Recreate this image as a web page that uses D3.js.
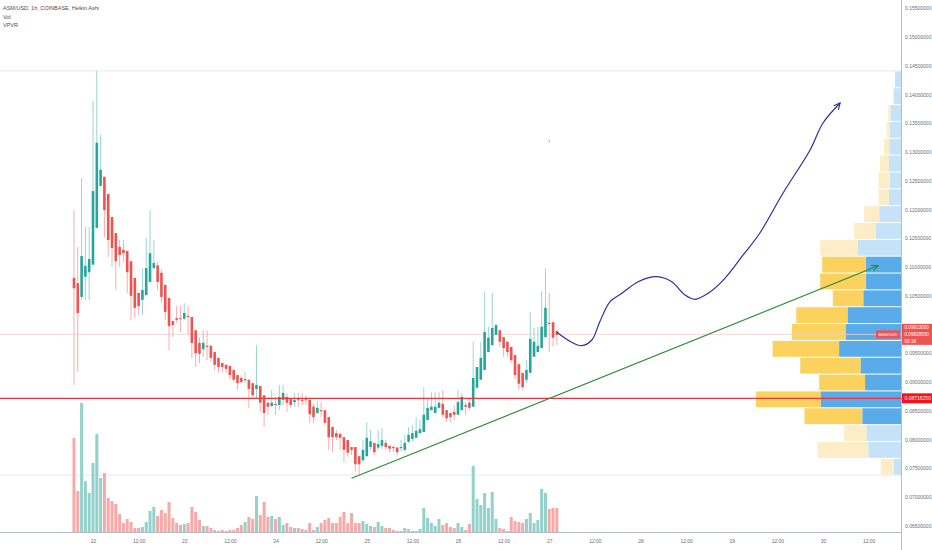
<!DOCTYPE html>
<html>
<head>
<meta charset="utf-8">
<script src="https://cdn.jsdelivr.net/npm/d3@7"></script>
<style>
  body { margin: 0; background: #fff; }
  svg { display: block; font-family: "Liberation Sans", Arial, sans-serif; }
</style>
</head>
<body>
<svg id="chart" width="932" height="550"></svg>
<script>
// ASM/USD 1h Heikin Ashi candles, first candle at 21st 19:00 (UTC), one per hour
const HOUR = 3600e3;
const firstCandle = Date.UTC(2022, 0, 21, 19);

const opens = [
  .1081, .1072, .1048, .1083, .1091, .1104, .1168, .1241, .1257, .1227,
  .1187, .1159, .1135, .1130, .1128, .1110, .1081, .1055, .1043, .1051,
  .1074, .1098, .1103, .1090, .1069, .1046, .1006, .1011, .1011, .1010,
  .1015, .1013, .0990, .0968, .0957, .0963, .0963, .0952, .0942, .0933,
  .0930, .0928, .0921, .0912, .0907, .0903, .0904, .0898, .0888, .0893,
  .0877, .0864, .0858, .0862, .0860, .0869, .0874, .0872, .0865, .0870,
  .0869, .0870, .0869, .0857, .0846, .0851, .0851, .0839, .0822, .0811,
  .0810, .0804, .0799, .0787, .0787, .0771, .0764, .0771, .0787, .0794,
  .0786, .0789, .0794, .0789, .0787, .0786, .0785, .0782, .0796, .0801,
  .0803, .0811, .0813, .0834, .0851, .0846, .0855, .0862, .0851, .0846,
  .0848, .0843, .0851, .0860, .0864, .0857, .0890, .0904, .0921, .0952,
  .0964, .0982, .0990, .0978, .0970, .0961, .0947, .0931, .0916, .0904,
  .0916, .0944, .0952, .0959, .0978, .1003, .1004, .0989
];
const highs = [
  .1199, .1135, .1255, .1170, .1170, .1389, .1441, .1330, .1257, .1227,
  .1187, .1159, .1147, .1147, .1128, .1110, .1081, .1055, .1098, .1150,
  .1199, .1147, .1109, .1095, .1069, .1046, .1006, .1033, .1033, .1037,
  .1033, .1013, .0990, .0978, .0990, .0990, .0963, .0952, .0942, .0933,
  .0930, .0928, .0921, .0912, .0912, .0917, .0904, .0898, .0964, .0893,
  .0877, .0864, .0886, .0874, .0895, .0895, .0881, .0872, .0881, .0881,
  .0881, .0877, .0869, .0862, .0867, .0865, .0851, .0839, .0822, .0816,
  .0810, .0804, .0799, .0787, .0787, .0771, .0799, .0830, .0816, .0794,
  .0816, .0820, .0799, .0789, .0790, .0786, .0799, .0808, .0822, .0825,
  .0839, .0834, .0891, .0870, .0882, .0882, .0882, .0886, .0851, .0846,
  .0860, .0886, .0881, .0865, .0872, .0970, .0926, .0970, .1057, .0996,
  .1055, .1002, .0990, .0978, .0970, .0961, .0947, .0931, .0916, .0938,
  .1022, .0994, .0996, .1058, .1098, .1055, .1004, .0989
];
const lows = [
  .0895, .0917, .1043, .1043, .1043, .1104, .1168, .1241, .1152, .1117,
  .1100, .1060, .1100, .1109, .1055, .1008, .1011, .1017, .1017, .1051,
  .1074, .1098, .1060, .1038, .1008, .0955, .0978, .1003, .0987, .1008,
  .0982, .0942, .0926, .0933, .0944, .0938, .0935, .0921, .0916, .0917,
  .0916, .0904, .0900, .0886, .0898, .0898, .0855, .0874, .0872, .0848,
  .0822, .0843, .0857, .0843, .0851, .0860, .0848, .0855, .0857, .0857,
  .0860, .0860, .0829, .0829, .0846, .0839, .0826, .0782, .0778, .0799,
  .0782, .0761, .0770, .0773, .0744, .0738, .0760, .0770, .0782, .0773,
  .0782, .0784, .0782, .0778, .0778, .0773, .0780, .0778, .0794, .0796,
  .0803, .0811, .0813, .0834, .0851, .0846, .0855, .0839, .0830, .0830,
  .0834, .0843, .0851, .0843, .0851, .0857, .0890, .0904, .0921, .0952,
  .0964, .0982, .0961, .0944, .0944, .0933, .0904, .0886, .0886, .0898,
  .0916, .0944, .0952, .0959, .0978, .0952, .0961, .0964
];
const closes = [
  .1063, .1020, .1119, .1102, .1114, .1232, .1316, .1269, .1199, .1147,
  .1133, .1110, .1121, .1124, .1091, .1050, .1029, .1032, .1060, .1098,
  .1124, .1107, .1074, .1048, .1022, .0997, .0999, .1008, .1010, .1020,
  .1013, .0968, .0950, .0949, .0968, .0961, .0942, .0930, .0926, .0926,
  .0923, .0912, .0904, .0898, .0900, .0905, .0888, .0877, .0895, .0864,
  .0846, .0857, .0864, .0860, .0874, .0881, .0864, .0860, .0869, .0869,
  .0867, .0869, .0844, .0839, .0855, .0849, .0829, .0804, .0804, .0804,
  .0803, .0782, .0777, .0782, .0757, .0757, .0782, .0803, .0797, .0778,
  .0792, .0799, .0787, .0784, .0785, .0778, .0787, .0794, .0808, .0811,
  .0815, .0818, .0843, .0855, .0857, .0857, .0864, .0843, .0837, .0839,
  .0843, .0865, .0874, .0857, .0855, .0907, .0926, .0942, .0987, .0977,
  .0994, .0999, .0970, .0959, .0952, .0938, .0912, .0897, .0891, .0921,
  .0975, .0970, .0963, .0996, .1029, .1001, .0977, .0982
];
// volume (thousands, no scale shown)
const volumes = [
  94, 41, 129, 51, 39, 69, 98, 54, 59, 34,
  31, 28, 18, 9, 13, 10, 4, 4, 5, 10,
  21, 25, 16, 22, 19, 30, 14, 9, 7, 8,
  9, 25, 20, 12, 6, 6, 4, 2, 1, 2,
  1, 2, 2, 4, 7, 10, 15, 13, 36, 17,
  30, 15, 16, 13, 15, 7, 9, 5, 4, 4,
  3, 2, 9, 2, 5, 9, 12, 14, 9, 9,
  15, 20, 9, 19, 9, 9, 11, 8, 6, 5,
  10, 6, 4, 4, 2, 1, 1, 4, 3, 1,
  1, 3, 24, 14, 9, 6, 13, 7, 9, 5,
  4, 9, 5, 2, 8, 66, 33, 27, 39, 24,
  40, 13, 4, 3, 1, 15, 11, 10, 9, 13,
  19, 9, 12, 43, 39, 23, 24, 24
];

// VPVR rows, top row first (up = blue, down = yellow)
const vpUp = [18, 21, 31, 33, 35, 36, 33, 36, 65, 75, 130, 105, 105, 113, 160, 166, 186, 121, 108, 241, 116, 103, 98, 21];
const vpDown = [0, 2, 7, 10, 16, 27, 35, 32, 46, 66, 113, 132, 138, 92, 155, 162, 200, 182, 138, 195, 174, 68, 153, 40];
const valueAreaPct = 0.68;

const priceTicks = [0.065, 0.07, 0.075, 0.08, 0.085, 0.09, 0.095, 0.10, 0.105, 0.11,
  0.115, 0.12, 0.125, 0.13, 0.135, 0.14, 0.145, 0.15, 0.155];

const levelPrice = 0.0871625;     // red horizontal line
const haPrice = 0.09913;
const lastPrice = 0.098285;
const countdown = '09:18';

// drawings: hours counted from the 22nd 00:00
const trendHours = [68.0, 206.5];
const trendPrices = [0.07325, 0.11021];
const curveHours = [122.0, 125.9, 128.5, 131.2, 133.3, 136.0, 139.1, 143.4, 148.3, 152.2,
  155.7, 158.3, 161.8, 166.2, 171.0, 175.4, 181.5, 188.6, 192.0, 196.5];
const curvePrices = [0.09864, 0.09690, 0.09631, 0.09730, 0.10049, 0.10397, 0.10543, 0.10744, 0.10831, 0.10744,
  0.10513, 0.10438, 0.10543, 0.10803, 0.11209, 0.11591, 0.12287, 0.13035, 0.13504, 0.13852];

const day0 = Date.UTC(2022, 0, 22);
const axisX = 901, axisY = 532;
const fs = '5px';

const svg = d3.select('#chart');
svg.append('rect').attr('width', 932).attr('height', 550).attr('fill', '#fff');

const x = d3.scaleUtc()
  .domain([new Date(day0), new Date(Date.UTC(2022, 0, 30))])
  .range([93, 823]);
const y = d3.scaleLinear().domain([0.065, 0.155]).range([525.75, 8.25]);
const yVol = d3.scaleLinear().domain([0, d3.max(volumes)]).range([axisY, 403]);

const candles = opens.map((o, i) => ({
  t: new Date(firstCandle + i * HOUR), o, h: highs[i], l: lows[i], c: closes[i], v: volumes[i]
}));

svg.append('defs').append('clipPath').attr('id', 'pane')
  .append('rect').attr('width', axisX).attr('height', axisY);
const pane = svg.append('g').attr('clip-path', 'url(#pane)');

// high / low of visible range
const hi = d3.max(highs), lo = d3.min(lows);
pane.selectAll('.range').data([hi, lo]).enter().append('line')
  .attr('x1', 0).attr('x2', axisX)
  .attr('y1', d => y(d)).attr('y2', d => y(d))
  .attr('stroke', '#e3e3e3').attr('stroke-width', 0.8);

// volume
pane.selectAll('.vol').data(candles).enter().append('rect')
  .attr('x', d => x(d.t) - 1.5)
  .attr('width', 3)
  .attr('y', d => yVol(d.v))
  .attr('height', d => axisY - yVol(d.v))
  .attr('fill', d => d.c >= d.o ? '#93d2cb' : '#f6a9a7');

// volume profile
const rowCount = vpUp.length;
const rowH = (hi - lo) / rowCount;
const totals = vpUp.map((u, i) => u + vpDown[i]);
const poc = totals.indexOf(d3.max(totals));
const inVA = totals.map(() => false);
inVA[poc] = true;
let vaSum = totals[poc], up = poc - 1, dn = poc + 1;
const vaTarget = d3.sum(totals) * valueAreaPct;
while (vaSum < vaTarget && (up >= 0 || dn < rowCount)) {
  const a = up >= 0 ? totals[up] : -1;
  const b = dn < rowCount ? totals[dn] : -1;
  if (a >= b) { inVA[up] = true; vaSum += a; up--; }
  else { inVA[dn] = true; vaSum += b; dn++; }
}
const w = d3.scaleLinear().domain([0, d3.max(totals)]).range([0, 145]);
const rows = vpUp.map((u, i) => ({
  top: hi - i * rowH, bot: hi - (i + 1) * rowH, up: u, down: vpDown[i], va: inVA[i]
}));
const prof = pane.append('g');
prof.selectAll('.vpd').data(rows).enter().append('rect')
  .attr('x', d => axisX - w(d.up + d.down))
  .attr('width', d => w(d.down))
  .attr('y', d => y(d.top) + 0.5)
  .attr('height', d => y(d.bot) - y(d.top) - 1)
  .attr('fill', d => d.va ? '#fbd25e' : '#fdedc6');
prof.selectAll('.vpu').data(rows).enter().append('rect')
  .attr('x', d => axisX - w(d.up))
  .attr('width', d => w(d.up))
  .attr('y', d => y(d.top) + 0.5)
  .attr('height', d => y(d.bot) - y(d.top) - 1)
  .attr('fill', d => d.va ? '#5aabea' : '#c6e2f9');

// current price line
pane.append('line')
  .attr('x1', 0).attr('x2', axisX)
  .attr('y1', y(lastPrice)).attr('y2', y(lastPrice))
  .attr('stroke', '#f4cfcd').attr('stroke-width', 0.8);

// candles
const cg = pane.append('g');
cg.selectAll('.wick').data(candles).enter().append('line')
  .attr('x1', d => x(d.t)).attr('x2', d => x(d.t))
  .attr('y1', d => y(d.h)).attr('y2', d => y(d.l))
  .attr('stroke', d => d.c >= d.o ? '#8fd0c9' : '#f4a5a3')
  .attr('stroke-width', 0.9);
cg.selectAll('.body').data(candles).enter().append('rect')
  .attr('x', d => x(d.t) - 1.3)
  .attr('width', 2.6)
  .attr('y', d => y(Math.max(d.o, d.c)))
  .attr('height', d => Math.max(1, Math.abs(y(d.o) - y(d.c))))
  .attr('fill', d => d.c >= d.o ? '#26a69a' : '#ef5350');

// horizontal level
pane.append('line')
  .attr('x1', 0).attr('x2', axisX)
  .attr('y1', y(levelPrice)).attr('y2', y(levelPrice))
  .attr('stroke', '#f0323c').attr('stroke-width', 1.2);

const hx = h => x(new Date(day0 + h * HOUR));

function arrowHead(g, x1, y1, x2, y2, color) {
  const a = Math.atan2(y2 - y1, x2 - x1), L = 7, s = 0.45;
  g.append('path')
    .attr('d', `M${x2 - L * Math.cos(a - s)},${y2 - L * Math.sin(a - s)}L${x2},${y2}L${x2 - L * Math.cos(a + s)},${y2 - L * Math.sin(a + s)}`)
    .attr('fill', 'none').attr('stroke', color).attr('stroke-width', 1.1);
}

// trend line
const tx = trendHours.map(hx), ty = trendPrices.map(y);
pane.append('line')
  .attr('x1', tx[0]).attr('y1', ty[0]).attr('x2', tx[1]).attr('y2', ty[1])
  .attr('stroke', '#2f8a3a').attr('stroke-width', 1.2);
arrowHead(pane, tx[0], ty[0], tx[1], ty[1], '#2f8a3a');

// projected path
const pts = curveHours.map((h, i) => [hx(h), y(curvePrices[i])]);
pane.append('path')
  .attr('d', d3.line().curve(d3.curveCatmullRom.alpha(0.5))(pts))
  .attr('fill', 'none').attr('stroke', '#2b2fa0').attr('stroke-width', 1.2);
const n = pts.length;
arrowHead(pane, pts[n - 2][0], pts[n - 2][1], pts[n - 1][0], pts[n - 1][1], '#2b2fa0');

// stray dot
pane.append('circle').attr('cx', hx(120)).attr('cy', y(0.1319)).attr('r', 0.6).attr('fill', '#555');

// axes borders
svg.append('line').attr('x1', axisX + 0.5).attr('x2', axisX + 0.5).attr('y1', 0).attr('y2', 550)
  .attr('stroke', '#b8bcc6').attr('stroke-width', 1);
svg.append('line').attr('x1', 0).attr('x2', axisX).attr('y1', axisY + 0.5).attr('y2', axisY + 0.5)
  .attr('stroke', '#b8bcc6').attr('stroke-width', 1);

// price axis (labels hidden behind the last-price tag are dropped)
const py = y(lastPrice), ly = y(levelPrice);
const shownTicks = priceTicks.filter(p => Math.abs(y(p) - py) > 13 && Math.abs(y(p) - ly) > 8);
svg.append('g')
  .attr('transform', `translate(${axisX},0)`)
  .call(d3.axisRight(y).tickValues(shownTicks).tickSize(0).tickPadding(4).tickFormat(d3.format('.8f')))
  .call(g => g.select('.domain').remove())
  .selectAll('text').attr('fill', '#6a6d78').style('font-size', fs);

// time axis
const timeTicks = d3.utcHour.every(12).range(new Date(day0), new Date(Date.UTC(2022, 0, 31)));
svg.append('g')
  .attr('transform', `translate(0,${axisY})`)
  .call(d3.axisBottom(x).tickValues(timeTicks).tickSize(0).tickPadding(7)
    .tickFormat(d => d.getUTCHours() === 0 ? d3.utcFormat('%-d')(d) : '12:00'))
  .call(g => g.select('.domain').remove())
  .selectAll('text').attr('fill', '#6a6d78').style('font-size', fs);

// price tags
svg.append('rect').attr('x', axisX + 1).attr('y', ly - 5).attr('width', 30).attr('height', 10).attr('fill', '#f5141e');
svg.append('text').attr('x', axisX + 3.5).attr('y', ly + 1.8).attr('fill', '#fff')
  .style('font-size', fs).text(levelPrice.toFixed(8));

svg.append('rect').attr('x', axisX + 1).attr('y', py - 10.5).attr('width', 30).attr('height', 21).attr('fill', '#ef5350');
svg.append('text').attr('x', axisX + 3.5).attr('y', py - 5.2).attr('fill', '#fff')
  .style('font-size', '4.6px').text(haPrice.toFixed(8));
svg.append('text').attr('x', axisX + 3.5).attr('y', py + 1.6).attr('fill', '#fff')
  .style('font-size', '4.6px').text(lastPrice.toFixed(8));
svg.append('text').attr('x', axisX + 3.5).attr('y', py + 8.4).attr('fill', '#fff')
  .style('font-size', '4.6px').text(countdown);
svg.append('rect').attr('x', axisX - 25).attr('y', py - 4).attr('width', 24).attr('height', 8).attr('fill', '#ef5350');
svg.append('text').attr('x', axisX - 13).attr('y', py + 1.6).attr('text-anchor', 'middle').attr('fill', '#fff')
  .style('font-size', '4.3px').text('ASM/USD');

// legend
const legend = ['ASM/USD, 1h, COINBASE, Heikin Ashi', 'Vol', 'VPVR'];
svg.selectAll('.leg').data(legend).enter().append('text')
  .attr('x', 3).attr('y', (d, i) => 10 + i * 8.5)
  .attr('fill', '#4a4d57').style('font-size', '5.5px')
  .text(d => d);
</script>
</body>
</html>
